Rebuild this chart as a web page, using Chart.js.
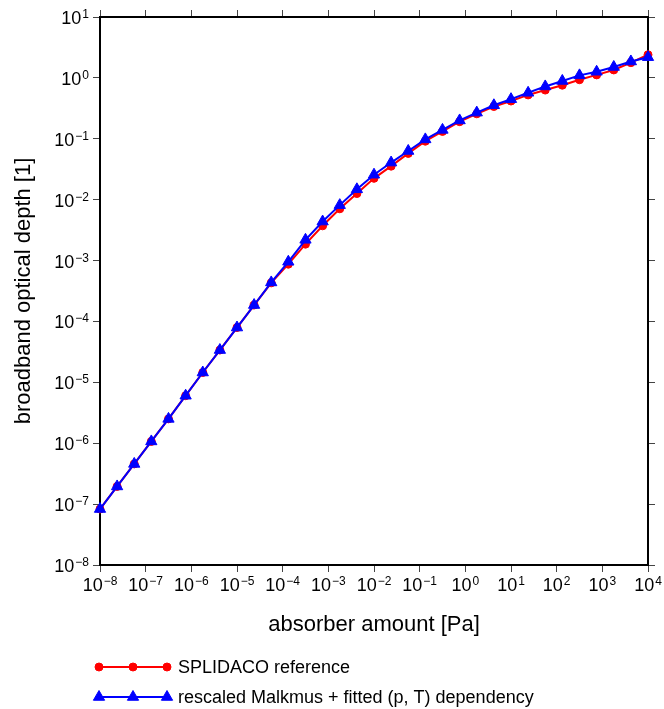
<!DOCTYPE html>
<html>
<head>
<meta charset="utf-8">
<script src="https://cdn.jsdelivr.net/npm/chart.js@4.4.0/dist/chart.umd.min.js"></script>
<style>
  html, body { margin: 0; padding: 0; background: #fff; }
  canvas { display: block; }
</style>
</head>
<body>
<canvas id="depthChart" width="664" height="709"></canvas>
<script>
// absorber amount [Pa], 8 points per 3 decades
const absorberAmount = [
    1e-8, 2.37e-8, 5.62e-8, 1.33e-7, 3.16e-7, 7.50e-7, 1.78e-6, 4.22e-6,
    1e-5, 2.37e-5, 5.62e-5, 1.33e-4, 3.16e-4, 7.50e-4, 1.78e-3, 4.22e-3,
    1e-2, 2.37e-2, 5.62e-2, 0.133, 0.316, 0.750, 1.78, 4.22,
    10, 23.7, 56.2, 133, 316, 750, 1780, 4220, 10000
];
const splidacoDepth = [
    8.3e-8, 1.95e-7, 4.57e-7, 1.07e-6, 2.51e-6, 6.03e-6, 1.45e-5, 3.39e-5,
    7.94e-5, 1.86e-4, 4.30e-4, 8.71e-4, 1.86e-3, 3.72e-3, 7.08e-3, 1.26e-2,
    2.24e-2, 3.55e-2, 5.75e-2, 9.12e-2, 0.132, 0.191, 0.257, 0.339,
    0.417, 0.525, 0.631, 0.759, 0.933, 1.12, 1.35, 1.78, 2.40
];
const malkmusDepth = [
    8.3e-8, 1.95e-7, 4.57e-7, 1.07e-6, 2.51e-6, 6.03e-6, 1.45e-5, 3.39e-5,
    7.94e-5, 1.86e-4, 4.37e-4, 9.55e-4, 2.19e-3, 4.37e-3, 8.13e-3, 1.48e-2,
    2.57e-2, 4.07e-2, 6.31e-2, 9.77e-2, 0.140, 0.200, 0.269, 0.355,
    0.447, 0.569, 0.724, 0.891, 1.10, 1.26, 1.51, 1.86, 2.19
];
const seriesNames = ['SPLIDACO reference', 'rescaled Malkmus + fitted (p, T) dependency'];

const xTickValues = [1e-8, 1e-7, 1e-6, 1e-5, 1e-4, 1e-3, 1e-2, 1e-1, 1e0, 1e1, 1e2, 1e3, 1e4];
const xTickExps = ['\u22128', '\u22127', '\u22126', '\u22125', '\u22124', '\u22123', '\u22122', '\u22121', '0', '1', '2', '3', '4'];
const yTickValues = [1e-8, 1e-7, 1e-6, 1e-5, 1e-4, 1e-3, 1e-2, 1e-1, 1e0, 1e1];
const yTickExps = ['\u22128', '\u22127', '\u22126', '\u22125', '\u22124', '\u22123', '\u22122', '\u22121', '0', '1'];

const xTitle = 'absorber amount [Pa]';
const yTitle = 'broadband optical depth [1]';

const FONT = '"Liberation Sans", Arial, Helvetica, sans-serif';

function drawPower(ctx, exp, x, y, align) {
    ctx.font = '18px ' + FONT;
    const wBase = ctx.measureText('10').width;
    ctx.font = '12px ' + FONT;
    const wExp = ctx.measureText(exp).width;
    const total = wBase + 1 + wExp;
    const left = align === 'center' ? x - total / 2 : x - total;
    ctx.textAlign = 'left';
    ctx.textBaseline = 'alphabetic';
    ctx.font = '18px ' + FONT;
    ctx.fillText('10', left, y);
    ctx.font = '12px ' + FONT;
    ctx.fillText(exp, left + wBase + 1, y - 6);
}

function drawMarker(ctx, style, x, y, r, color) {
    ctx.fillStyle = color;
    ctx.strokeStyle = color;
    ctx.lineWidth = 1;
    ctx.beginPath();
    if (style === 'triangle') {
        ctx.moveTo(x, y - r);
        ctx.lineTo(x + r * 0.866, y + r / 2);
        ctx.lineTo(x - r * 0.866, y + r / 2);
        ctx.closePath();
    } else {
        ctx.arc(x, y, r, 0, Math.PI * 2);
    }
    ctx.fill();
    ctx.stroke();
}

const textPlugin = {
    id: 'textPlugin',
    afterDraw(chart) {
        const ctx = chart.ctx;
        const xs = chart.scales.x;
        const ys = chart.scales.y;
        ctx.save();
        ctx.fillStyle = '#000';
        xTickValues.forEach((v, i) => {
            drawPower(ctx, xTickExps[i], xs.getPixelForValue(v), xs.top + 26, 'center');
        });
        yTickValues.forEach((v, i) => {
            ctx.fillStyle = '#000';
            drawPower(ctx, yTickExps[i], ys.right - 11, ys.getPixelForValue(v) + 7, 'right');
        });

        ctx.fillStyle = '#000';
        ctx.font = '22px ' + FONT;
        ctx.textAlign = 'center';
        ctx.textBaseline = 'alphabetic';
        ctx.fillText(xTitle, (xs.left + xs.right) / 2, 631);
        ctx.save();
        ctx.translate(30, (ys.top + ys.bottom) / 2);
        ctx.rotate(-Math.PI / 2);
        ctx.fillText(yTitle, 0, 0);
        ctx.restore();

        // legend: line with three markers
        chart.data.datasets.forEach((ds, i) => {
            const y = 667 + i * 30;
            ctx.strokeStyle = ds.borderColor;
            ctx.lineWidth = 2;
            ctx.beginPath();
            ctx.moveTo(99, y);
            ctx.lineTo(167, y);
            ctx.stroke();
            [99, 133, 167].forEach(x => drawMarker(ctx, ds.pointStyle, x, y, ds.pointRadius, ds.borderColor));
            ctx.fillStyle = '#000';
            ctx.font = '18px ' + FONT;
            ctx.textAlign = 'left';
            ctx.textBaseline = 'middle';
            ctx.fillText(ds.label, 178, y + 1);
        });
        ctx.restore();
    }
};

function logAxis(position, min, max, tickValues, size) {
    return {
        type: 'logarithmic',
        position: position,
        min: min,
        max: max,
        afterBuildTicks: scale => { scale.ticks = tickValues.map(v => ({ value: v })); },
        afterFit: scale => {
            if (position === 'left' || position === 'right') scale.width = size;
            else scale.height = size;
        },
        ticks: { display: false },
        grid: { drawOnChartArea: false, drawTicks: true, tickLength: 7, color: '#444', lineWidth: 1 },
        border: { display: true, color: '#000', width: 2 }
    };
}

let ctx = document.getElementById('depthChart').getContext('2d');
let depthChart = new Chart(ctx, {
    type: 'line',
    data: {
        datasets: [{
            label: seriesNames[0],
            data: absorberAmount.map((x, i) => ({ x: x, y: splidacoDepth[i] })),
            borderColor: '#ff0000',
            backgroundColor: '#ff0000',
            borderWidth: 2,
            pointStyle: 'circle',
            pointRadius: 4,
            pointBorderWidth: 1,
            clip: false,
            order: 2
        }, {
            label: seriesNames[1],
            data: absorberAmount.map((x, i) => ({ x: x, y: malkmusDepth[i] })),
            borderColor: '#0000ff',
            backgroundColor: '#0000ff',
            borderWidth: 2,
            pointStyle: 'triangle',
            pointRadius: 6.5,
            pointBorderWidth: 1,
            clip: false,
            order: 1
        }]
    },
    options: {
        responsive: false,
        animation: false,
        devicePixelRatio: 1,
        layout: { padding: 0 },
        plugins: { legend: { display: false }, tooltip: { enabled: false } },
        scales: {
            x: logAxis('bottom', 1e-8, 1e4, xTickValues, 144),
            x2: logAxis('top', 1e-8, 1e4, xTickValues, 17),
            y: logAxis('left', 1e-8, 10, yTickValues, 100),
            y2: logAxis('right', 1e-8, 10, yTickValues, 16)
        }
    },
    plugins: [textPlugin]
});
</script>
</body>
</html>
